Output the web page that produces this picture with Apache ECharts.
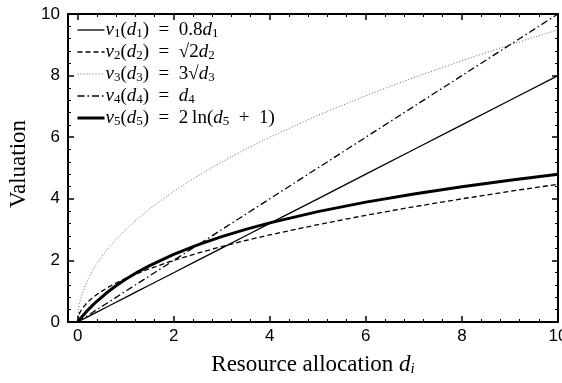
<!DOCTYPE html>
<html>
<head>
<meta charset="utf-8">
<script src="https://cdn.jsdelivr.net/npm/echarts@6/dist/echarts.min.js"></script>
<style>html,body{margin:0;padding:0;background:#fff}#c{width:562px;height:383px}</style>
</head>
<body>
<div id="c"></div>
<script>
const dValues = [0, 0.02, 0.05, 0.1, 0.2, 0.3, 0.4, 0.6, 0.8, 1, 1.25, 1.5, 2, 2.5, 3, 3.5, 4, 5, 6, 7, 8, 9, 10];
const v1 = [0, 0.016, 0.04, 0.08, 0.16, 0.24, 0.32, 0.48, 0.64, 0.8, 1.0, 1.2, 1.6, 2.0, 2.4, 2.8, 3.2, 4.0, 4.8, 5.6, 6.4, 7.2, 8.0];
const v2 = [0, 0.2, 0.316, 0.447, 0.632, 0.775, 0.894, 1.095, 1.265, 1.414, 1.581, 1.732, 2.0, 2.236, 2.449, 2.646, 2.828, 3.162, 3.464, 3.742, 4.0, 4.243, 4.472];
const v3 = [0, 0.424, 0.671, 0.949, 1.342, 1.643, 1.897, 2.324, 2.683, 3.0, 3.354, 3.674, 4.243, 4.743, 5.196, 5.612, 6.0, 6.708, 7.348, 7.937, 8.485, 9.0, 9.487];
const v4 = [0, 0.02, 0.05, 0.1, 0.2, 0.3, 0.4, 0.6, 0.8, 1, 1.25, 1.5, 2, 2.5, 3, 3.5, 4, 5, 6, 7, 8, 9, 10];
const v5 = [0, 0.0396, 0.0976, 0.1906, 0.3646, 0.5247, 0.673, 0.94, 1.1756, 1.3863, 1.6219, 1.8326, 2.1972, 2.5055, 2.7726, 3.0082, 3.2189, 3.5835, 3.8918, 4.1589, 4.3944, 4.6052, 4.7958];
const xTicks = [0, 2, 4, 6, 8, 10];
const xMinorTicks = [0.4, 0.8, 1.2, 1.6, 2.4, 2.8, 3.2, 3.6, 4.4, 4.8, 5.2, 5.6, 6.4, 6.8, 7.2, 7.6, 8.4, 8.8, 9.2, 9.6];
const yTicks = [0, 2, 4, 6, 8, 10];
const seriesNames = ['v1', 'v2', 'v3', 'v4', 'v5'];
const EQ = '\u2002=\u2002';
const PLUS = '\u2002+\u2002';
const legendLabels = {
  v1: '{i|v}{s|1}({i|d}{s|1})' + EQ + '0.8{i|d}{s|1}',
  v2: '{i|v}{s|2}({i|d}{s|2})' + EQ + '√2{i|d}{s|2}',
  v3: '{i|v}{s|3}({i|d}{s|3})' + EQ + '3√{i|d}{s|3}',
  v4: '{i|v}{s|4}({i|d}{s|4})' + EQ + '{i|d}{s|4}',
  v5: '{i|v}{s|5}({i|d}{s|5})' + EQ + '2\u2009ln({i|d}{s|5}' + PLUS + '1)'
};

const pair = (ys) => dValues.map((d, k) => [d, ys[k]]);
const black = '#000';
const serif = 'Liberation Serif';
const sans = 'Liberation Sans';

const xBase = {
  type: 'value', min: -0.2, max: 10, gridIndex: 0,
  splitLine: {show: false}
};
const yBase = {
  type: 'value', min: 0, max: 10, interval: 2,
  splitLine: {show: false}
};

const richMath = {
  i: {fontFamily: serif, fontStyle: 'italic', fontSize: 19, color: black, lineHeight: 20},
  s: {fontFamily: serif, fontSize: 13, color: black, lineHeight: 8, verticalAlign: 'bottom'}
};

const chart = echarts.init(document.getElementById('c'), null, {renderer: 'canvas'});
chart.setOption({
  animation: false,
  backgroundColor: '#fff',
  grid: {left: 68, right: 4, top: 14, bottom: 61, outerBoundsMode: 'none', containLabel: false},
  legend: {
    orient: 'vertical', left: 71, top: 15,
    itemWidth: 27, itemHeight: 12, itemGap: 2,
    data: seriesNames,
    itemStyle: {opacity: 0},
    lineStyle: {width: 'inherit', type: 'inherit', color: 'inherit'},
    formatter: (n) => legendLabels[n],
    textStyle: {fontFamily: serif, fontSize: 19, color: black, lineHeight: 20, padding: [0, 0, 0, -4], rich: richMath}
  },
  xAxis: [
    Object.assign({}, xBase, {
      position: 'bottom',
      axisLine: {show: true, onZero: false, lineStyle: {color: black, width: 2}},
      axisTick: {show: true, inside: true, length: 6, customValues: xTicks, lineStyle: {color: black, width: 1.5}},
      axisLabel: {show: true, customValues: xTicks, fontFamily: sans, fontSize: 17, color: black, margin: 6},
      name: '{r|Resource allocation }{i|d}{s|i}', nameLocation: 'middle', nameGap: 31,
      nameTextStyle: {fontFamily: serif, fontSize: 23, color: black, rich: {
        r: {fontFamily: serif, fontSize: 23, color: black, lineHeight: 24},
        i: {fontFamily: serif, fontStyle: 'italic', fontSize: 23, color: black, lineHeight: 24},
        s: {fontFamily: serif, fontStyle: 'italic', fontSize: 15, color: black, lineHeight: 10, verticalAlign: 'bottom'}
      }}
    }),
    Object.assign({}, xBase, {
      position: 'bottom',
      axisLine: {show: false, onZero: false},
      axisTick: {show: true, inside: true, length: 3, customValues: xMinorTicks, lineStyle: {color: black, width: 1}},
      axisLabel: {show: false}
    }),
    Object.assign({}, xBase, {
      position: 'top',
      axisLine: {show: true, onZero: false, lineStyle: {color: black, width: 2}},
      axisTick: {show: true, inside: true, length: 6, customValues: xTicks, lineStyle: {color: black, width: 1.5}},
      axisLabel: {show: false}
    }),
    Object.assign({}, xBase, {
      position: 'top',
      axisLine: {show: false, onZero: false},
      axisTick: {show: true, inside: true, length: 3, customValues: xMinorTicks, lineStyle: {color: black, width: 1}},
      axisLabel: {show: false}
    })
  ],
  yAxis: [
    Object.assign({}, yBase, {
      position: 'left',
      axisLine: {show: true, onZero: false, lineStyle: {color: black, width: 2}},
      axisTick: {show: true, inside: true, length: 6, lineStyle: {color: black, width: 1.5}},
      minorTick: {show: true, splitNumber: 5, length: 3, lineStyle: {color: black, width: 1}},
      axisLabel: {show: true, fontFamily: sans, fontSize: 17, color: black, margin: 8, customValues: yTicks},
      name: 'Valuation', nameLocation: 'middle', nameGap: 36, nameRotate: 90,
      nameTextStyle: {fontFamily: serif, fontSize: 23, color: black, padding: [0, 0, 0, 8]}
    }),
    Object.assign({}, yBase, {
      position: 'right',
      axisLine: {show: true, onZero: false, lineStyle: {color: black, width: 2}},
      axisTick: {show: true, inside: true, length: 6, lineStyle: {color: black, width: 1.5}},
      minorTick: {show: true, splitNumber: 5, length: 3, lineStyle: {color: black, width: 1}},
      axisLabel: {show: false}
    })
  ],
  series: [
    {name: 'v1', type: 'line', data: pair(v1), showSymbol: false, symbol: 'none', lineStyle: {color: black, width: 1.3, type: 'solid'}, itemStyle: {color: black}},
    {name: 'v2', type: 'line', data: pair(v2), showSymbol: false, symbol: 'none', lineStyle: {color: black, width: 1.3, type: [5, 3]}, itemStyle: {color: black}},
    {name: 'v3', type: 'line', data: pair(v3), showSymbol: false, symbol: 'none', lineStyle: {color: '#666', width: 1, type: [1, 2]}, itemStyle: {color: '#666'}},
    {name: 'v4', type: 'line', data: pair(v4), showSymbol: false, symbol: 'none', lineStyle: {color: black, width: 1.3, type: [7, 3, 1.5, 3]}, itemStyle: {color: black}},
    {name: 'v5', type: 'line', data: pair(v5), showSymbol: false, symbol: 'none', lineStyle: {color: black, width: 3, type: 'solid'}, itemStyle: {color: black}}
  ]
});
</script>
</body>
</html>
